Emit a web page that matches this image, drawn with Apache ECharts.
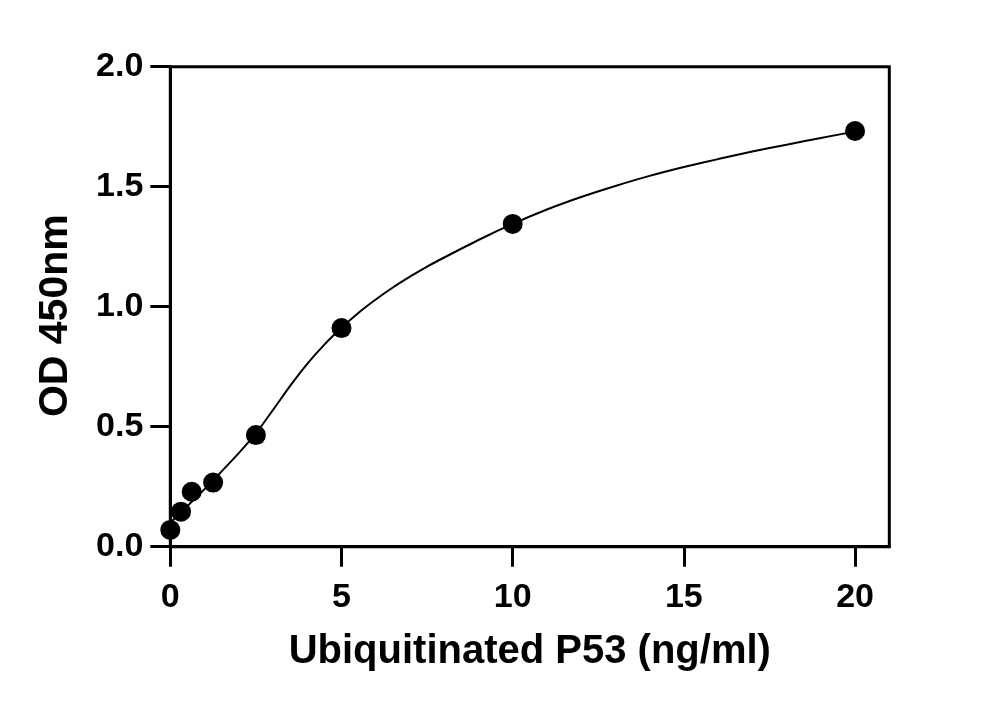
<!DOCTYPE html>
<html>
<head>
<meta charset="utf-8">
<script src="https://cdn.jsdelivr.net/npm/echarts@6/dist/echarts.min.js"></script>
<style>
html,body{margin:0;padding:0;background:#fff;}
#chart{width:1000px;height:708px;}
</style>
</head>
<body>
<div id="chart"></div>
<script>
// Measured standards (concentration ng/ml, OD 450nm)
var concentrations = [0, 0.3125, 0.625, 1.25, 2.5, 5, 10, 20];
var odValues = [0.07, 0.146, 0.229, 0.267, 0.465, 0.911, 1.345, 1.732];
// Fitted curve
var curveX = [0, 0.3125, 0.625, 1, 1.25, 1.5, 2, 2.5, 3, 3.5, 4, 4.5, 5, 5.5, 6, 6.5, 7, 7.5, 8, 9, 10, 11, 12, 13, 14, 15, 16, 17, 18, 19, 20];
var curveY = [0.10, 0.143, 0.187, 0.24, 0.277, 0.314, 0.39, 0.472, 0.57, 0.67, 0.762, 0.842, 0.912, 0.975, 1.03, 1.08, 1.125, 1.167, 1.205, 1.278, 1.345, 1.405, 1.457, 1.503, 1.545, 1.582, 1.615, 1.647, 1.675, 1.703, 1.73];
var xTicks = [0, 5, 10, 15, 20];
var yTicks = [0, 0.5, 1.0, 1.5, 2.0];
var xTitle = 'Ubiquitinated P53 (ng/ml)';
var yTitle = 'OD 450nm';

var FONT = '"Liberation Sans", Arial, Helvetica, sans-serif';
var chart = echarts.init(document.getElementById('chart'), null, {renderer: 'canvas'});
chart.setOption({
  animation: false,
  backgroundColor: '#fff',
  grid: {
    left: 170.3, right: 110.7, top: 66.7, bottom: 161.3,
    show: true, borderColor: '#000', borderWidth: 3, backgroundColor: 'transparent'
  },
  xAxis: {
    type: 'value', min: 0, max: 21,
    name: xTitle, nameLocation: 'middle', nameGap: 85,
    nameTextStyle: {fontFamily: FONT, fontWeight: 'bold', fontSize: 40, color: '#000'},
    axisLine: {show: true, lineStyle: {color: '#000', width: 3}},
    axisTick: {show: true, length: 20, lineStyle: {color: '#000', width: 3}, customValues: xTicks},
    axisLabel: {fontFamily: FONT, fontWeight: 'bold', fontSize: 34, color: '#000', margin: 34, customValues: xTicks},
    splitLine: {show: false}
  },
  yAxis: {
    type: 'value', min: 0, max: 2,
    name: yTitle, nameLocation: 'middle', nameGap: 94,
    nameTextStyle: {fontFamily: FONT, fontWeight: 'bold', fontSize: 41, color: '#000', padding: [0, 18, 0, 0]},
    axisLine: {show: true, lineStyle: {color: '#000', width: 3}},
    axisTick: {show: true, length: 20, lineStyle: {color: '#000', width: 3}, customValues: yTicks},
    axisLabel: {fontFamily: FONT, fontWeight: 'bold', fontSize: 34, color: '#000', margin: 27,
      customValues: yTicks, formatter: function (v) { return v.toFixed(1); }},
    splitLine: {show: false}
  },
  series: [
    {
      type: 'line',
      data: curveX.map(function (x, i) { return [x, curveY[i]]; }),
      smooth: 0.2,
      showSymbol: false, symbol: 'none',
      lineStyle: {color: '#000', width: 2},
      z: 2
    },
    {
      type: 'scatter',
      data: concentrations.map(function (x, i) { return [x, odValues[i]]; }),
      symbol: 'circle', symbolSize: 20,
      itemStyle: {color: '#000', opacity: 1},
      z: 3
    }
  ]
});
</script>
</body>
</html>
